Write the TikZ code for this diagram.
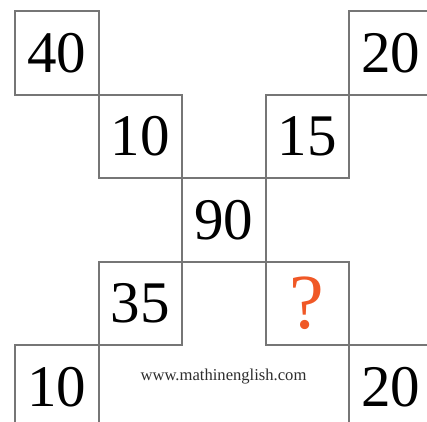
\documentclass[tikz,border=0pt]{standalone}
\usepackage{fontspec}
\setmainfont{Liberation Serif}
\definecolor{boxgray}{RGB}{118,118,118}
\definecolor{qorange}{RGB}{240,88,38}
\definecolor{urlgray}{RGB}{45,45,45}
\begin{document}
\begin{tikzpicture}[x=1pt,y=-1pt,
  cell/.style={draw=boxgray,line width=2pt,minimum size=83.5pt,inner sep=0pt,
    font=\fontsize{59}{59}\selectfont,text=black},
  qcell/.style={cell,font=\fontsize{78}{78}\selectfont,text=qorange},
  url/.style={font=\fontsize{16.6}{18}\selectfont,text=urlgray,inner sep=0pt}]
\useasboundingbox (0,0) rectangle (427,421);
\clip (0,0) rectangle (427,421);
\node[cell] (a) at (56.75,52.75) {40};
\node[cell] (b) at (390.75,52.75) {20};
\node[cell] (c) at (140.25,136.25) {10};
\node[cell] (d) at (307.25,136.25) {15};
\node[cell] (e) at (223.75,219.75) {90};
\node[cell] (f) at (140.25,303.25) {35};
\node[qcell] (g) at (307.25,303.25) {?};
\node[cell] (h) at (56.75,386.75) {10};
\node[cell] (i) at (390.75,386.75) {20};
\node[url,anchor=base] (w) at (223.5,380) {www.mathinenglish.com};
\end{tikzpicture}
\end{document}
